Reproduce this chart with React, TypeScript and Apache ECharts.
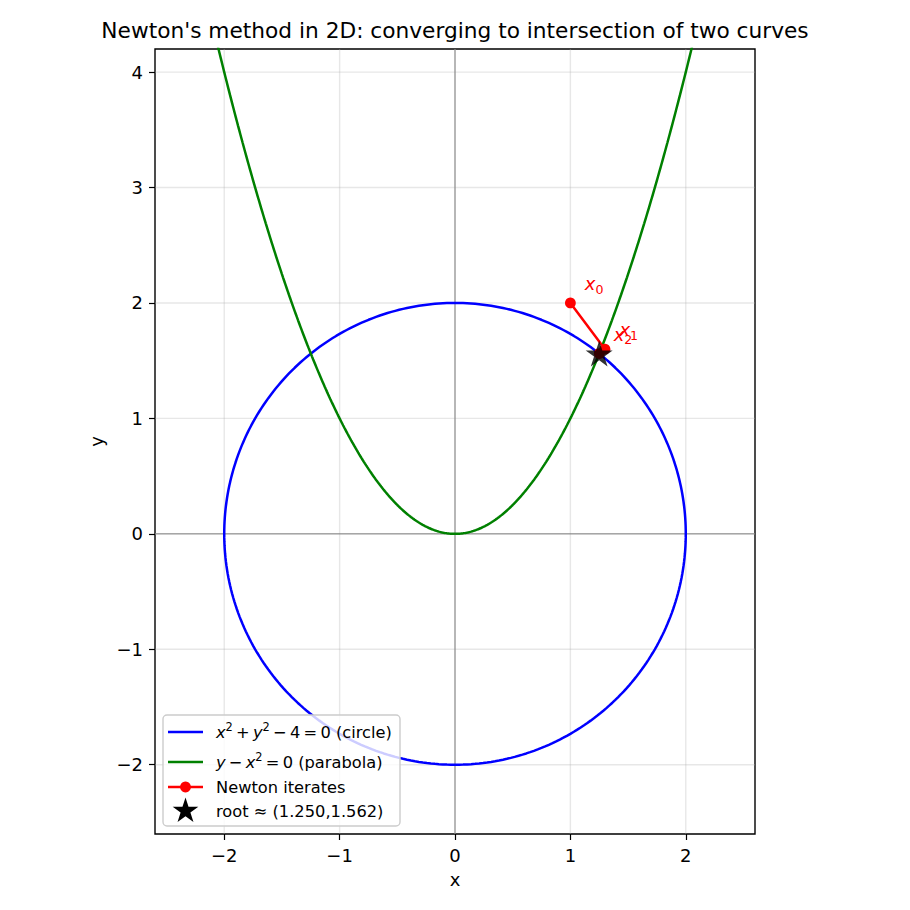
import React, { useEffect, useRef } from "react";
import * as echarts from "echarts";

const titleText = "Newton's method in 2D: converging to intersection of two curves";
const xTicks = [-2, -1, 0, 1, 2];
const yTicks = [-2, -1, 0, 1, 2, 3, 4];
const xLimits = [-2.6, 2.6];
const yLimits = [-2.6, 4.2];
const circleRadius = 2;
const parabolaDomain = [-2.5, 2.5];
const iterX = [1.0, 1.3, 1.2507];
const iterY = [2.0, 1.6, 1.5619];
const rootX = 1.2496;
const rootY = 1.5616;

const FONT = "DejaVu Sans";
const STAR_PTS: number[][] = [
  [0, -100], [22.45, -30.9], [95.11, -30.9], [36.33, 11.8], [58.78, 80.9],
  [0, 38.2], [-58.78, 80.9], [-36.33, 11.8], [-95.11, -30.9], [-22.45, -30.9],
];
const STAR_PATH = "path://M" + STAR_PTS.map((p) => p.join(",")).join("L") + "Z";

const fmt = (v: number) => (v < 0 ? "\u2212" + String(-v) : String(v));
const TS = "\u2009";

export default function App() {
  const ref = useRef<HTMLDivElement>(null);
  useEffect(() => {
    if (!ref.current) return;
    const chart = echarts.init(ref.current, null, { renderer: "svg" });

    const circleData: number[][] = [];
    for (let k = 0; k <= 360; k++) {
      const t = (2 * Math.PI * k) / 360;
      circleData.push([circleRadius * Math.cos(t), circleRadius * Math.sin(t)]);
    }
    const parabolaData: number[][] = [];
    for (let k = 0; k <= 500; k++) {
      const x = parabolaDomain[0] + ((parabolaDomain[1] - parabolaDomain[0]) * k) / 500;
      parabolaData.push([x, x * x]);
    }

    const gridSeries: any[] = [];
    xTicks.forEach((t) =>
      gridSeries.push({
        type: "line", silent: true, symbol: "none", z: 1,
        data: [[t, yLimits[0]], [t, yLimits[1]]],
        lineStyle: { color: "#b0b0b0", opacity: 0.3, width: 1.4 },
      })
    );
    yTicks.forEach((t) =>
      gridSeries.push({
        type: "line", silent: true, symbol: "none", z: 1,
        data: [[xLimits[0], t], [xLimits[1], t]],
        lineStyle: { color: "#b0b0b0", opacity: 0.3, width: 1.4 },
      })
    );
    gridSeries.push({
      type: "line", silent: true, symbol: "none", z: 2,
      data: [[0, yLimits[0]], [0, yLimits[1]]],
      lineStyle: { color: "#808080", width: 1 },
    });
    gridSeries.push({
      type: "line", silent: true, symbol: "none", z: 2,
      data: [[xLimits[0], 0], [xLimits[1], 0]],
      lineStyle: { color: "#808080", width: 1 },
    });

    const legendLeft = 163, legendTop = 715;
    const rows = [732, 762, 787, 811];
    const textBase = { fontFamily: FONT, fontSize: 16.25, fill: "#000" };
    const richLegend = {
      n: { fontFamily: FONT, fontSize: 16.25, lineHeight: 22, color: "#000" },
      i: { fontFamily: FONT, fontSize: 16.25, lineHeight: 22, fontStyle: "italic", color: "#000" },
      p: { fontFamily: FONT, fontSize: 11.4, lineHeight: 12, verticalAlign: "top", color: "#000" },
    };

    chart.setOption({
      animation: false,
      title: {
        text: titleText, left: "center", top: 14,
        textStyle: { fontFamily: FONT, fontSize: 21.7, fontWeight: "normal", color: "#000" },
      },
      grid: {
        left: 155, top: 49, right: 155, bottom: 76,
        show: true, borderColor: "#000", borderWidth: 1.4, backgroundColor: "transparent",
      },
      xAxis: {
        type: "value", min: xLimits[0], max: xLimits[1],
        name: "x", nameLocation: "middle", nameGap: 36,
        nameTextStyle: { fontFamily: FONT, fontSize: 18, color: "#000" },
        axisLine: { show: false, onZero: false },
        axisTick: { show: true, customValues: xTicks, length: 6, lineStyle: { color: "#000", width: 1.2 } },
        axisLabel: { customValues: xTicks, formatter: fmt, margin: 12, fontFamily: FONT, fontSize: 18, color: "#000" },
        splitLine: { show: false },
      },
      yAxis: {
        type: "value", min: yLimits[0], max: yLimits[1],
        name: "y", nameLocation: "middle", nameGap: 46,
        nameTextStyle: { fontFamily: FONT, fontSize: 18, color: "#000" },
        axisLine: { show: false, onZero: false },
        axisTick: { show: true, customValues: yTicks, length: 6, lineStyle: { color: "#000", width: 1.2 } },
        axisLabel: { customValues: yTicks, formatter: fmt, margin: 12, fontFamily: FONT, fontSize: 18, color: "#000" },
        splitLine: { show: false },
      },
      series: [
        ...gridSeries,
        {
          name: "circle", type: "line", data: circleData, showSymbol: false, symbol: "none", z: 3,
          lineStyle: { color: "#0000ff", width: 2.5 }, clip: true,
        },
        {
          name: "parabola", type: "line", data: parabolaData, showSymbol: false, symbol: "none", z: 3,
          lineStyle: { color: "#008000", width: 2.5 }, clip: true,
        },
        {
          name: "Newton iterates", type: "line", z: 4,
          data: iterX.map((x, i) => [x, iterY[i]]),
          symbol: "circle", symbolSize: 10.8, showSymbol: true,
          itemStyle: { color: "#ff0000" },
          lineStyle: { color: "#ff0000", width: 2.5 },
          label: {
            show: true,
            position: [19.8, -2],
            align: "left",
            verticalAlign: "bottom",
            formatter: (p: any) => `{i|x}{s|${p.dataIndex}}`,
            rich: {
              i: { fontFamily: FONT, fontSize: 18, fontStyle: "italic", lineHeight: 24, color: "#ff0000" },
              s: { fontFamily: FONT, fontSize: 12.6, lineHeight: 14, verticalAlign: "bottom", color: "#ff0000" },
            },
          },
        },
        {
          name: "root", type: "scatter", z: 5,
          data: [[rootX, rootY]],
          symbol: STAR_PATH, symbolSize: 27, symbolKeepAspect: true,
          itemStyle: { color: "#000" },
        },
      ],
      graphic: [
        {
          type: "rect", z: 100,
          shape: { x: legendLeft, y: legendTop, width: 237, height: 111, r: 4 },
          style: { fill: "rgba(255,255,255,0.8)", stroke: "#cccccc", lineWidth: 1.4 },
        },
        { type: "line", z: 101, shape: { x1: 168, y1: rows[0], x2: 203, y2: rows[0] }, style: { stroke: "#0000ff", lineWidth: 2.7 } },
        { type: "line", z: 101, shape: { x1: 168, y1: rows[1], x2: 203, y2: rows[1] }, style: { stroke: "#008000", lineWidth: 2.7 } },
        { type: "line", z: 101, shape: { x1: 168, y1: rows[2], x2: 203, y2: rows[2] }, style: { stroke: "#ff0000", lineWidth: 2.7 } },
        { type: "circle", z: 102, shape: { cx: 185.5, cy: rows[2], r: 5.4 }, style: { fill: "#ff0000" } },
        {
          type: "polygon", z: 102,
          shape: { points: STAR_PTS.map((p) => [185.5 + p[0] * 0.135, rows[3] + p[1] * 0.135]) },
          style: { fill: "#000" },
        },
        {
          type: "text", z: 103, x: 216, y: rows[0],
          style: {
            text: `{i|x}{p|2}{n|${TS}+${TS}}{i|y}{p|2}{n|${TS}\u2212${TS}4${TS}=${TS}0 (circle)}`,
            rich: richLegend, verticalAlign: "middle", align: "left",
          },
        },
        {
          type: "text", z: 103, x: 216, y: rows[1],
          style: {
            text: `{i|y}{n|${TS}\u2212${TS}}{i|x}{p|2}{n|${TS}=${TS}0 (parabola)}`,
            rich: richLegend, verticalAlign: "middle", align: "left",
          },
        },
        {
          type: "text", z: 103, x: 216, y: rows[2],
          style: { ...textBase, text: "Newton iterates", verticalAlign: "middle", align: "left" },
        },
        {
          type: "text", z: 103, x: 216, y: rows[3],
          style: { ...textBase, text: "root \u2248 (1.250,1.562)", verticalAlign: "middle", align: "left" },
        },
      ],
    });
    return () => chart.dispose();
  }, []);
  return (
    <div
      ref={ref}
      style={{ position: "fixed", left: 0, top: 0, width: 910, height: 910, background: "#fff" }}
    />
  );
}
